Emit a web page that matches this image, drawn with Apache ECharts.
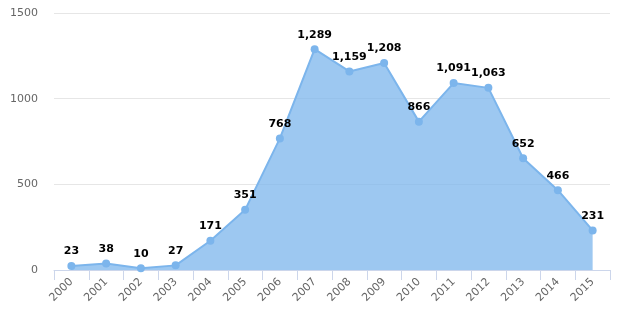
<!DOCTYPE html>
<html>
<head>
<meta charset="utf-8">
<script src="https://cdn.jsdelivr.net/npm/echarts@6/dist/echarts.min.js"></script>
<style>
html,body{margin:0;padding:0;background:#fff;}
#chart{width:620px;height:330px;}
</style>
</head>
<body>
<div id="chart"></div>
<script>
const years = ['2000','2001','2002','2003','2004','2005','2006','2007','2008','2009','2010','2011','2012','2013','2014','2015'];
const counts = [23, 38, 10, 27, 171, 351, 768, 1289, 1159, 1208, 866, 1091, 1063, 652, 466, 231];
const yTicks = [0, 500, 1000, 1500];

const chart = echarts.init(document.getElementById('chart'));
chart.setOption({
  animation: false,
  grid: { left: 54, right: 10, top: 13, bottom: 60 },
  xAxis: {
    type: 'category',
    data: years,
    boundaryGap: true,
    axisLine: { lineStyle: { color: '#ccd6eb' } },
    axisTick: { show: true, length: 10, lineStyle: { color: '#ccd6eb' } },
    axisLabel: {
      rotate: 45,
      color: '#666',
      fontFamily: 'DejaVu Sans',
      fontSize: 11,
      margin: 10,
      interval: 0
    }
  },
  yAxis: {
    type: 'value',
    min: yTicks[0],
    max: yTicks[yTicks.length - 1],
    interval: 500,
    axisLine: { show: false },
    axisTick: { show: false },
    splitLine: { lineStyle: { color: '#e6e6e6' } },
    axisLabel: {
      color: '#666',
      fontFamily: 'DejaVu Sans',
      fontSize: 11,
      margin: 16,
      formatter: v => String(v)
    }
  },
  series: [{
    type: 'line',
    data: counts,
    symbol: 'circle',
    symbolSize: 8,
    lineStyle: { color: '#7cb5ec', width: 2 },
    itemStyle: { color: '#7cb5ec' },
    areaStyle: { color: '#7cb5ec', opacity: 0.75 },
    label: {
      show: true,
      position: 'top',
      distance: 5,
      color: '#000',
      fontFamily: 'DejaVu Sans',
      fontWeight: 'bold',
      fontSize: 11,
      formatter: p => p.value.toLocaleString('en-US')
    }
  }]
});
</script>
</body>
</html>
